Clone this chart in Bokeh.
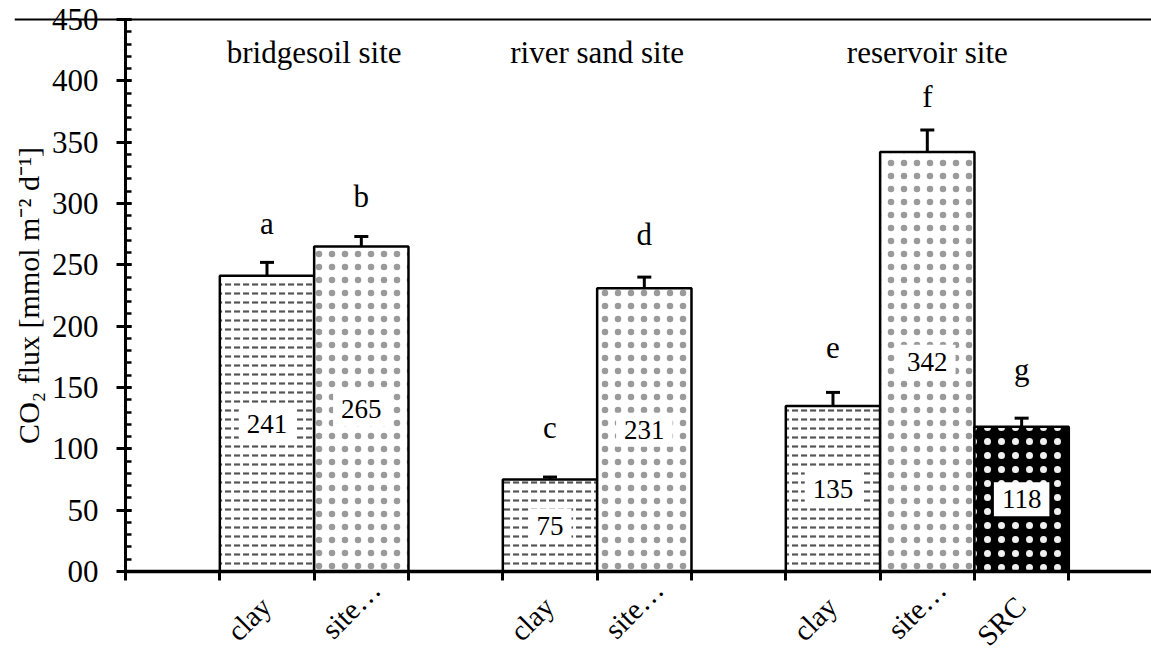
import math
from bokeh.plotting import figure
from bokeh.models import (ColumnDataSource, FixedTicker, Span, LinearAxis,
                          Whisker, TeeHead, Range1d)
from bokeh.core.properties import value
from bokeh.embed import file_html
from bokeh.resources import INLINE

# ---------------- data ----------------
groups = ["bridgesoil site", "river sand site", "reservoir site"]
group_members = [["clay", "site…"], ["clay", "site…"], ["clay", "site…", "SRC"]]
flux = [241, 265, 75, 231, 135, 342, 118]
flux_err = [11, 8, 2, 9, 11, 18, 7]
letters = ["a", "b", "c", "d", "e", "f", "g"]
kinds = ["clay", "sand", "clay", "sand", "clay", "sand", "src"]
y_ticks = [0, 50, 100, 150, 200, 250, 300, 350, 400, 450]
y_tick_labels = ["00", "50", "100", "150", "200", "250", "300", "350", "400", "450"]
y_minor = list(range(0, 451, 10))
y_label = "CO₂ flux [mmol m⁻² d⁻¹]"

# layout constants (not data)
letter_gap = [32, 33, 40, 35, 37, 27, 40]
label_shift = {"site…": (15, 17)}   # px shift (right, up) for labels ending in an ellipsis
FONT = "Liberation Serif"
PX_X = 94.33           # px per category slot
PX_Y = 552 / 450       # px per flux unit
W, H = 1151, 655
AX_X, AX_Y = 125, 571  # pixel position of the axes origin
B_LEFT, B_TOP = 14, 4

# ---------------- slots ----------------
centers, edges, names, group_centers = [], [0.0], [], []
pos = 0.0
for g, members in zip(groups, group_members):
    pos += 1.0
    edges.append(pos)
    start = pos
    for m in members:
        centers.append(pos + 0.5)
        names.append(m)
        pos += 1.0
        edges.append(pos)
    group_centers.append((start + pos) / 2)

x_start = -(AX_X - B_LEFT) / PX_X
x_end = x_start + (W - B_LEFT) / PX_X
y_start = -(H - AX_Y) / PX_Y
y_end = y_start + (H - B_TOP) / PX_Y

p = figure(width=W, height=H, output_backend="svg", toolbar_location=None,
           x_range=Range1d(x_start, x_end), y_range=Range1d(y_start, y_end),
           x_axis_location=None, y_axis_location=None,
           min_border_left=B_LEFT, min_border_right=0,
           min_border_top=B_TOP, min_border_bottom=0)
p.outline_line_color = None
p.xgrid.visible = False
p.ygrid.visible = False
p.background_fill_color = "white"
p.border_fill_color = "white"

styles = {
    "clay": dict(fill_color="white", hatch_pattern="horizontal_dash", hatch_color="#555555",
                 hatch_scale=9, hatch_weight=2.2),
    "sand": dict(fill_color="white", hatch_pattern="dot", hatch_color="#9a9a9a",
                 hatch_scale=13, hatch_weight=0.1),
    "src": dict(fill_color="black", hatch_pattern="dot", hatch_color="#f0f0f0",
                hatch_scale=14, hatch_weight=0.1),
}
for kind, st in styles.items():
    idx = [i for i, k in enumerate(kinds) if k == kind]
    src = ColumnDataSource(dict(x=[centers[i] for i in idx], top=[flux[i] for i in idx]))
    p.vbar(x="x", top="top", bottom=0, width=1.0, source=src,
           line_color="black", line_width=2.5, **st)

# value labels in white boxes
lab_src = ColumnDataSource(dict(x=centers, y=[v / 2 for v in flux], t=[str(v) for v in flux]))
p.text(x="x", y="y", text="t", source=lab_src, text_align="center",
       text_baseline="middle", text_font=value(FONT), text_font_size="27px",
       text_color="black", background_fill_color="white", padding=8)

# error bars
err_src = ColumnDataSource(dict(x=centers,
                                lo=[v - e for v, e in zip(flux, flux_err)],
                                hi=[v + e for v, e in zip(flux, flux_err)]))
p.add_layout(Whisker(base="x", lower="lo", upper="hi", source=err_src,
                     line_color="black", line_width=3,
                     upper_head=TeeHead(size=14, line_width=3, line_color="black"),
                     lower_head=TeeHead(size=14, line_width=3, line_color="black")))

# significance letters
let_src = ColumnDataSource(dict(x=centers,
                                y=[v + e + g for v, e, g in zip(flux, flux_err, letter_gap)],
                                t=letters))
p.text(x="x", y="y", text="t", source=let_src, text_align="center", text_baseline="middle",
       text_font=value(FONT), text_font_size="31px", text_color="black")

# group titles
grp_src = ColumnDataSource(dict(x=group_centers, y=[423] * len(groups), t=groups))
p.text(x="x", y="y", text="t", source=grp_src, text_align="center", text_baseline="middle",
       text_font=value(FONT), text_font_size="31px", text_color="black")

# top line
p.add_layout(Span(location=450, dimension="width", line_color="black", line_width=2))

# x axis at y = 0 (ticks at bar edges pointing down)
xa = LinearAxis(fixed_location=0, ticker=FixedTicker(ticks=edges), bounds=(0, x_end))
xa.major_label_text_font_size = "1px"
xa.major_label_text_color = None
xa.major_label_standoff = 0
xa.major_tick_out = 0
xa.major_tick_in = 9
xa.major_tick_line_width = 3
xa.minor_tick_out = 0
xa.minor_tick_in = 0
xa.axis_line_width = 3.5
xa.axis_line_color = "black"
p.add_layout(xa, "above")

# y axis at x = 0
ya = LinearAxis(fixed_location=0, ticker=FixedTicker(ticks=y_ticks, minor_ticks=y_minor),
                bounds=(0, 450))
ya.major_label_text_font_size = "1px"
ya.major_label_text_color = None
ya.major_label_standoff = 0
ya.axis_line_width = 3
ya.axis_line_color = "black"
ya.major_tick_in = 6
ya.major_tick_out = 9
ya.major_tick_line_width = 3
ya.minor_tick_in = 6
ya.minor_tick_out = 0
ya.minor_tick_line_width = 2.5
p.add_layout(ya, "left")

# tick labels and axis title as serif text
yt_src = ColumnDataSource(dict(x=[0] * len(y_ticks), y=y_ticks, t=y_tick_labels))
p.text(x="x", y="y", text="t", source=yt_src, x_offset=-27, text_align="right",
       text_baseline="middle", text_font=value(FONT), text_font_size="31px",
       text_color="black")

shifts = [label_shift.get(n, (0, 0)) for n in names]
xt_src = ColumnDataSource(dict(x=centers,
                               y=[-24.5 + s[1] / PX_Y for s in shifts],
                               xo=[-1 + s[0] for s in shifts],
                               t=names))
p.text(x="x", y="y", text="t", source=xt_src, x_offset="xo", angle=math.pi / 4,
       text_align="right", text_baseline="middle", text_font=value(FONT),
       text_font_size="29px", text_color="black")

yl_src = ColumnDataSource(dict(x=[0], y=[225], t=[y_label]))
p.text(x="x", y="y", text="t", source=yl_src, x_offset=-97, angle=math.pi / 2,
       text_align="center", text_baseline="middle", text_font=value(FONT),
       text_font_size="30px", text_color="black")

open("out.html", "w").write(file_html(p, INLINE))
